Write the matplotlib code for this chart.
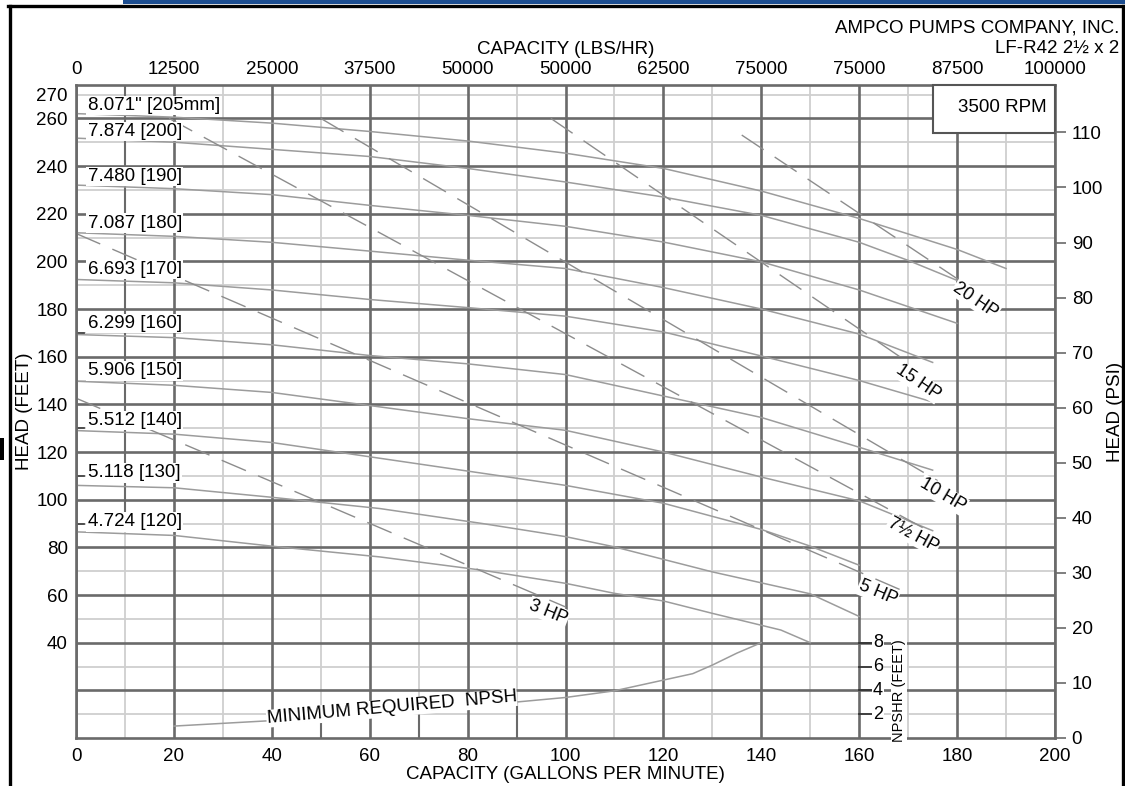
import numpy as np
import matplotlib.pyplot as plt
from matplotlib.patches import Rectangle
from matplotlib.lines import Line2D

plt.rcParams['font.family'] = ['Liberation Sans', 'DejaVu Sans']
plt.rcParams['font.size'] = 13.5

# head / capacity curves, one per impeller diameter (gpm, feet)
gpm_205 = [0, 20, 40, 60, 80, 100, 120, 140, 160, 180, 190]
head_205 = [262, 260.5, 258, 254.5, 250.5, 245.4, 239, 229.5, 218, 205, 197]
gpm_200 = [0, 20, 40, 60, 80, 100, 120, 140, 160, 170, 180]
head_200 = [251.7, 250, 247, 244, 239, 233.3, 227, 219.3, 208, 200.4, 192]
gpm_190 = [0, 20, 40, 60, 80, 100, 120, 140, 160, 180]
head_190 = [232, 230.5, 228, 223.5, 219.3, 214.7, 208.1, 199.8, 188, 174]
gpm_180 = [0, 20, 40, 60, 80, 100, 120, 140, 160, 175]
head_180 = [212, 210.5, 208, 204.3, 200.5, 197, 189, 180, 169.5, 157.6]
gpm_170 = [0, 20, 40, 60, 80, 100, 120, 140, 160, 175]
head_170 = [192.4, 191, 188, 184, 180.6, 177, 170.4, 160.3, 150, 141]
gpm_160 = [0, 20, 40, 60, 80, 100, 120, 140, 160, 175]
head_160 = [169.3, 168, 165, 160.5, 157, 152.5, 143.5, 134.5, 122, 112.4]
gpm_150 = [0, 20, 40, 60, 80, 100, 120, 140, 160, 175]
head_150 = [149.7, 148, 145, 139.5, 134, 129.1, 120, 109.5, 99.5, 87]
gpm_140 = [0, 20, 40, 60, 80, 100, 120, 130, 140, 150, 160]
head_140 = [129, 127.5, 124, 118, 112, 106, 98.5, 93, 87.5, 80.5, 72.5]
gpm_130 = [0, 20, 40, 62, 83, 100, 110, 130, 150, 160]
head_130 = [106, 105, 101, 96.3, 90, 84.5, 80.2, 69.7, 60.5, 51]
gpm_120 = [0, 20, 40, 62, 83, 100, 110, 120, 130, 144, 150]
head_120 = [86.5, 85, 80.5, 76, 70.4, 64.9, 60.7, 57.5, 52.3, 45.3, 40]

dia_labels = ['8.071" [205mm]', '7.874 [200]', '7.480 [190]', '7.087 [180]', '6.693 [170]',
              '6.299 [160]', '5.906 [150]', '5.512 [140]', '5.118 [130]', '4.724 [120]']
dia_label_head = [265.4, 254.5, 235.6, 216, 196.6, 174, 154, 133.3, 111.2, 90.7]

# constant horsepower lines (start / end points)
hp_labels = ['3 HP', '5 HP', '7½ HP', '10 HP', '15 HP', '20 HP']
hp_gpm = [[0, 100], [0, 170], [19, 175], [50, 176], [97, 169], [136, 182]]
hp_head = [[142.6, 55], [211.7, 60.8], [260, 86], [260, 108], [260, 159], [253, 190]]

# minimum required NPSH (gpm, feet of NPSH)
npsh_gpm = [20, 40, 60, 80, 100, 110, 120, 126, 130, 135, 140]
npsh_ft = [1.0, 1.46, 1.92, 2.64, 3.4, 3.96, 4.86, 5.4, 6.12, 7.12, 8.0]

gpm_ticks = list(range(0, 201, 20))
lbs_labels = ['0', '12500', '25000', '37500', '50000', '50000', '62500', '75000',
              '75000', '87500', '100000']
head_ticks = list(range(40, 261, 20)) + [270]
psi_ticks = list(range(0, 111, 10))
npsh_ticks = [2, 4, 6, 8]

W, H = 1125, 786
fig = plt.figure(figsize=(W / 100, H / 100), dpi=100)
ax = fig.add_axes([76 / W, 1 - 738 / H, (1055 - 76) / W, (738 - 85) / H])
ax.set_xlim(0, 200)
ax.set_ylim(0, 274)

dark = '#6a6a6a'
heavy = dict(color=dark, lw=1.9, zorder=1)
light = dict(color='#cfcfcf', lw=1.3, zorder=0.9)
for g in range(0, 201, 20):
    ax.axvline(g, **heavy)
for g in range(10, 200, 20):
    ax.axvline(g, **light)
for h in range(20, 261, 20):
    ax.axhline(h, **heavy)
for h in range(10, 271, 20):
    ax.axhline(h, **light)
# darker bits of the minor grid seen on the sheet
ax.plot([10, 10], [95, 274], color=dark, lw=1.5, zorder=1)
for h in [170, 130, 110, 90]:
    ax.plot([0, 1.6], [h, h], color='#444444', lw=1.3, zorder=1)
for s in ax.spines.values():
    s.set_color(dark)
    s.set_linewidth(1.9)

curves = [(gpm_205, head_205), (gpm_200, head_200), (gpm_190, head_190), (gpm_180, head_180),
          (gpm_170, head_170), (gpm_160, head_160), (gpm_150, head_150), (gpm_140, head_140),
          (gpm_130, head_130), (gpm_120, head_120)]
for q, h in curves:
    ax.plot(q, h, color='#9c9c9c', lw=1.1, zorder=2)

for lab, y in zip(dia_labels, dia_label_head):
    ax.text(2.4, y, lab, ha='left', va='center', zorder=3,
            bbox=dict(fc='white', ec='none', pad=1.0))

label_pos = [(96.5, 52.8, -22), (163.8, 60.8, -23), (171, 85.1, -28.5),
             (177.1, 101.9, -30.5), (172, 149.3, -34), (183.8, 183.6, -34)]
for (q, h), lab, (lx, ly, rot) in zip(zip(hp_gpm, hp_head), hp_labels, label_pos):
    ln, = ax.plot(q, h, color='#8c8c8c', lw=1.0, zorder=2)
    ln.set_dashes((19, 9.5))
    ax.text(lx, ly, lab, ha='center', va='center', rotation=rot, rotation_mode='anchor',
            fontsize=13, zorder=4, bbox=dict(fc='white', ec='none', pad=0.6))

# 3500 RPM box
ax.add_patch(Rectangle((175, 253.7), 25, 20.3, fc='white', ec='#555555', lw=1.5,
                       zorder=4, clip_on=False))
ax.text(189.2, 264.6, '3500 RPM', ha='center', va='center', zorder=5)

ax.set_xticks(gpm_ticks)
ax.set_yticks(head_ticks)
ax.tick_params(axis='both', length=0)
ax.tick_params(axis='x', pad=7)
ax.tick_params(axis='y', pad=6)
ax.set_xlabel('CAPACITY (GALLONS PER MINUTE)', labelpad=1)
ax.set_ylabel('HEAD (FEET)', labelpad=2)

top = ax.secondary_xaxis('top')
top.set_xticks(gpm_ticks, labels=lbs_labels)
top.tick_params(length=0, pad=5)
top.spines['top'].set_visible(False)
top.set_xlabel('CAPACITY (LBS/HR)', labelpad=5)

psi = ax.twinx()
psi.set_ylim(0, 274 / 2.31)
psi.set_yticks(psi_ticks)
psi.tick_params(axis='y', direction='out', length=8, width=1.2, color=dark, pad=4)
for s in psi.spines.values():
    s.set_visible(False)
psi.set_ylabel('HEAD (PSI)', labelpad=3)

nax = ax.twinx()
nax.set_ylim(0, 274 / 5)
nax.axis('off')
nax.plot(npsh_gpm, npsh_ft, color='#9c9c9c', lw=1.1)
for g in [50, 70, 90]:
    nax.plot([g, g], [0, np.interp(g, npsh_gpm, npsh_ft)], color=dark, lw=1.5)
for v in npsh_ticks:
    nax.plot([160, 162.6], [v, v], color='#333333', lw=1.3)
    nax.text(163.8, v, str(v), ha='center', va='center', zorder=4, fontsize=13,
             bbox=dict(fc='white', ec='none', pad=0.5))
nax.text(168.1, 4, 'NPSHR (FEET)', rotation=90, ha='center', va='center', fontsize=10.5,
         bbox=dict(fc='white', ec='none', pad=0.5))
nax.text(64.5, 2.52, 'MINIMUM REQUIRED  NPSH', rotation=5, ha='center', va='center',
         rotation_mode='anchor', bbox=dict(fc='white', ec='none', pad=0.3))

# sheet frame and header
fig.add_artist(Rectangle((123 / W, 1 - 4 / H), 1 - 123 / W, 4 / H, transform=fig.transFigure,
                         fc='#1d4e91', ec='none'))
fig.add_artist(Line2D([8 / W, 1], [1 - 5.5 / H] * 2, transform=fig.transFigure, color='black', lw=2.4))
fig.add_artist(Line2D([9.5 / W] * 2, [0, 1 - 5.5 / H], transform=fig.transFigure, color='black', lw=2.4))
fig.add_artist(Line2D([1123 / W] * 2, [0, 1 - 5.5 / H], transform=fig.transFigure, color='black', lw=2.4))
fig.add_artist(Rectangle((0, 1 - 460 / H), 4 / W, 22 / H, transform=fig.transFigure,
                         fc='black', ec='none'))
fig.text(1119 / W, 1 - 28 / H, 'AMPCO PUMPS COMPANY, INC.', ha='right', va='center')
fig.text(1119 / W, 1 - 48 / H, 'LF-R42 2½ x 2', ha='right', va='center')

fig.savefig('out.png', dpi=100)
